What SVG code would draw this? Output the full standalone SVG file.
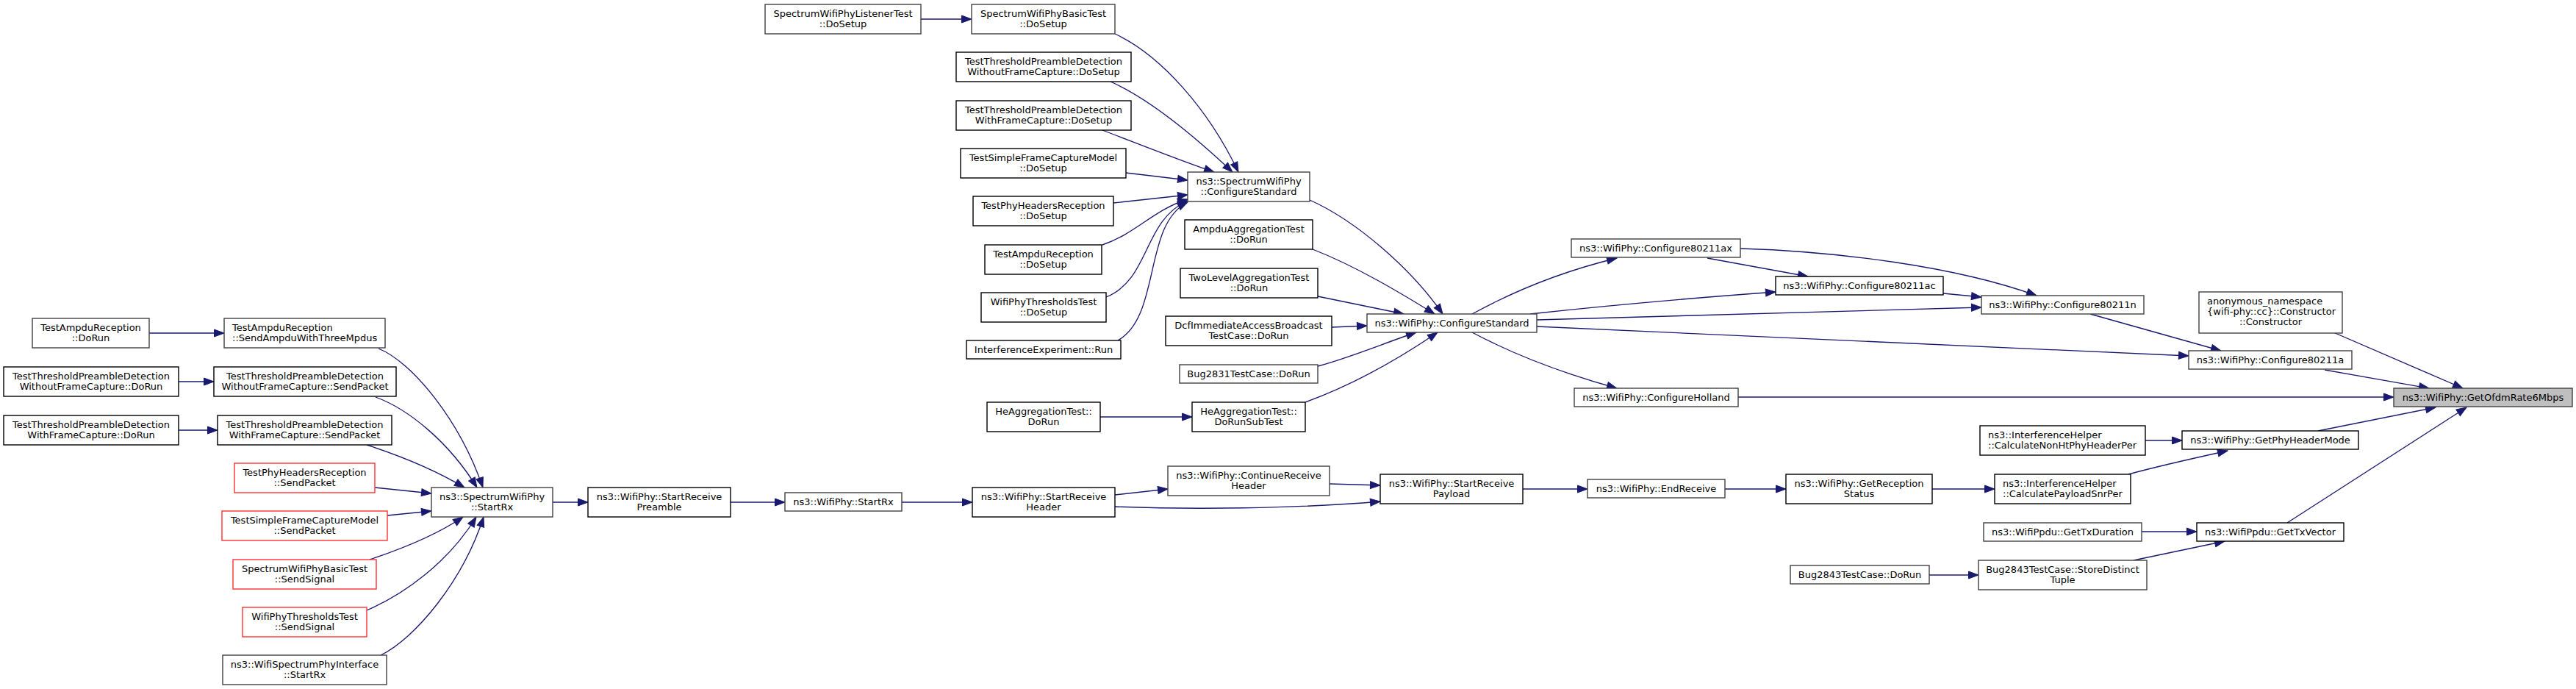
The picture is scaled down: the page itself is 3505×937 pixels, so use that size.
<svg xmlns="http://www.w3.org/2000/svg" width="3505" height="937" viewBox="0 0 3505 937">
<style>
rect{fill:#fff;stroke:#000;stroke-width:1.4}
.g rect{stroke:#404040}
.r rect{stroke:#f33}
.root rect{fill:#bfbfbf;stroke:#404040}
text{font-family:"DejaVu Sans","Liberation Sans",sans-serif;font-size:13px;fill:#000}
.c{text-anchor:middle}
#edges path{fill:none;stroke:#191970;stroke-width:1.33;marker-end:url(#ah)}
</style>
<defs>
<marker id="ah" markerUnits="userSpaceOnUse" markerWidth="14" markerHeight="10" viewBox="0 0 14 10" refX="13.5" refY="5" orient="auto" overflow="visible">
<path d="M0,0 L13.5,5 L0,10 z" fill="#191970" stroke="#191970" stroke-width="1"/>
</marker>
</defs>
<rect x="0" y="0" width="3505" height="937" style="fill:#fff;stroke:none"/>
<g id="edges">
<path d="M203,453 L305,453"/>
<path d="M243,519 L291,519"/>
<path d="M243,585 L296,585"/>
<path d="M515,474 C560,492 625,570 657,663"/>
<path d="M511,540 C555,556 610,600 649,663"/>
<path d="M499,605 C545,620 590,638 632,663"/>
<path d="M510,663 L587,671"/>
<path d="M527,701 L587,695"/>
<path d="M503,761 C545,747 595,727 630,703"/>
<path d="M499,830 C550,808 610,765 648,703"/>
<path d="M518,891 C565,868 630,790 658,703"/>
<path d="M752,683 L800,683"/>
<path d="M994,683 L1068,683"/>
<path d="M1227,683 L1323,683"/>
<path d="M1517,673 L1589,665"/>
<path d="M1517,689 C1620,693 1760,692 1878,682"/>
<path d="M1809,658 L1878,660"/>
<path d="M2072,665 L2160,665"/>
<path d="M2347,665 L2430,665"/>
<path d="M2629,665 L2714,665"/>
<path d="M2919,599 L2969,599"/>
<path d="M2896,645 C2940,633 2990,622 3031,613"/>
<path d="M3154,586 L3314,554"/>
<path d="M2914,723 L2989,723"/>
<path d="M2903,762 C2950,752 2990,744 3027,736"/>
<path d="M2625,782 L2692,782"/>
<path d="M3112,711 L3356,554"/>
<path d="M1253,26 L1322,26"/>
<path d="M1517,46 C1580,75 1645,150 1685,234"/>
<path d="M1511,111 C1565,135 1625,185 1677,234"/>
<path d="M1500,177 C1555,198 1610,220 1652,234"/>
<path d="M1532,235 L1616,245"/>
<path d="M1515,276 L1616,265"/>
<path d="M1500,333 C1545,318 1570,285 1616,271"/>
<path d="M1505,404 C1565,380 1555,300 1616,273"/>
<path d="M1521,463 C1580,430 1555,305 1616,275"/>
<path d="M1782,272 C1845,300 1920,365 1963,427"/>
<path d="M1786,339 C1845,362 1905,398 1952,427"/>
<path d="M1793,403 L1910,427"/>
<path d="M1812,445 L1860,443"/>
<path d="M1793,498 C1835,487 1885,466 1927,452"/>
<path d="M1776,547 C1850,520 1915,480 1956,452"/>
<path d="M1497,567 L1622,567"/>
<path d="M2003,427 C2065,393 2130,368 2200,351"/>
<path d="M2082,427 C2200,414 2320,404 2416,397"/>
<path d="M2091,435 C2300,428 2500,422 2696,418"/>
<path d="M2091,444 C2400,457 2700,470 2978,484"/>
<path d="M2003,452 C2065,485 2135,510 2200,528"/>
<path d="M2323,351 L2460,376"/>
<path d="M2368,338 C2500,342 2660,362 2771,402"/>
<path d="M2644,399 L2696,404"/>
<path d="M2844,427 L3022,477"/>
<path d="M3163,503 L3305,528"/>
<path d="M2365,540 L3257,540"/>
<path d="M3175,452 L3351,528"/>
</g>
<g id="n1" class="g"><rect x="44" y="433" width="159" height="40"/><text class="c" x="123.5" y="449.5">TestAmpduReception</text><text class="c" x="123.5" y="463.5">::DoRun</text></g>
<g id="n2" class="g"><rect x="305" y="433" width="219" height="40"/><text x="316" y="449.5">TestAmpduReception</text><text x="316" y="463.5">::SendAmpduWithThreeMpdus</text></g>
<g id="n3"><rect x="5" y="499" width="238" height="40"/><text class="c" x="124" y="515.5">TestThresholdPreambleDetection</text><text class="c" x="124" y="529.5">WithoutFrameCapture::DoRun</text></g>
<g id="n4"><rect x="291" y="499" width="248" height="40"/><text class="c" x="415" y="515.5">TestThresholdPreambleDetection</text><text class="c" x="415" y="529.5">WithoutFrameCapture::SendPacket</text></g>
<g id="n5"><rect x="5" y="565" width="238" height="40"/><text class="c" x="124" y="581.5">TestThresholdPreambleDetection</text><text class="c" x="124" y="595.5">WithFrameCapture::DoRun</text></g>
<g id="n6"><rect x="296" y="565" width="237" height="40"/><text class="c" x="414.5" y="581.5">TestThresholdPreambleDetection</text><text class="c" x="414.5" y="595.5">WithFrameCapture::SendPacket</text></g>
<g id="n7" class="r"><rect x="319" y="630" width="191" height="40"/><text class="c" x="414.5" y="646.5">TestPhyHeadersReception</text><text class="c" x="414.5" y="660.5">::SendPacket</text></g>
<g id="n8" class="r"><rect x="302" y="695" width="225" height="40"/><text class="c" x="414.5" y="711.5">TestSimpleFrameCaptureModel</text><text class="c" x="414.5" y="725.5">::SendPacket</text></g>
<g id="n9" class="r"><rect x="317" y="761" width="195" height="40"/><text class="c" x="414.5" y="777.5">SpectrumWifiPhyBasicTest</text><text class="c" x="414.5" y="791.5">::SendSignal</text></g>
<g id="n10" class="r"><rect x="330" y="826" width="169" height="40"/><text class="c" x="414.5" y="842.5">WifiPhyThresholdsTest</text><text class="c" x="414.5" y="856.5">::SendSignal</text></g>
<g id="n11" class="g"><rect x="303" y="891" width="223" height="40"/><text class="c" x="414.5" y="907.5">ns3::WifiSpectrumPhyInterface</text><text class="c" x="414.5" y="921.5">::StartRx</text></g>
<g id="n12" class="g"><rect x="587" y="663" width="165" height="40"/><text class="c" x="669.5" y="679.5">ns3::SpectrumWifiPhy</text><text class="c" x="669.5" y="693.5">::StartRx</text></g>
<g id="n13"><rect x="800" y="663" width="194" height="40"/><text class="c" x="897" y="679.5">ns3::WifiPhy::StartReceive</text><text class="c" x="897" y="693.5">Preamble</text></g>
<g id="n14" class="g"><rect x="1068" y="670" width="159" height="25"/><text class="c" x="1147.5" y="686.8">ns3::WifiPhy::StartRx</text></g>
<g id="n15" class="g"><rect x="1041" y="6" width="212" height="40"/><text class="c" x="1147" y="22.5">SpectrumWifiPhyListenerTest</text><text class="c" x="1147" y="36.5">::DoSetup</text></g>
<g id="n16" class="g"><rect x="1322" y="6" width="195" height="40"/><text class="c" x="1419.5" y="22.5">SpectrumWifiPhyBasicTest</text><text class="c" x="1419.5" y="36.5">::DoSetup</text></g>
<g id="n17"><rect x="1301" y="71" width="238" height="40"/><text class="c" x="1420" y="87.5">TestThresholdPreambleDetection</text><text class="c" x="1420" y="101.5">WithoutFrameCapture::DoSetup</text></g>
<g id="n18"><rect x="1301" y="137" width="238" height="40"/><text class="c" x="1420" y="153.5">TestThresholdPreambleDetection</text><text class="c" x="1420" y="167.5">WithFrameCapture::DoSetup</text></g>
<g id="n19"><rect x="1307" y="202" width="225" height="40"/><text class="c" x="1419.5" y="218.5">TestSimpleFrameCaptureModel</text><text class="c" x="1419.5" y="232.5">::DoSetup</text></g>
<g id="n20"><rect x="1324" y="267" width="191" height="40"/><text class="c" x="1419.5" y="283.5">TestPhyHeadersReception</text><text class="c" x="1419.5" y="297.5">::DoSetup</text></g>
<g id="n21"><rect x="1340" y="333" width="159" height="40"/><text class="c" x="1419.5" y="349.5">TestAmpduReception</text><text class="c" x="1419.5" y="363.5">::DoSetup</text></g>
<g id="n22"><rect x="1335" y="398" width="170" height="40"/><text class="c" x="1420" y="414.5">WifiPhyThresholdsTest</text><text class="c" x="1420" y="428.5">::DoSetup</text></g>
<g id="n23"><rect x="1315" y="463" width="210" height="25"/><text class="c" x="1420" y="479.8">InterferenceExperiment::Run</text></g>
<g id="n24"><rect x="1343" y="547" width="154" height="40"/><text class="c" x="1420" y="563.5">HeAggregationTest::</text><text class="c" x="1420" y="577.5">DoRun</text></g>
<g id="n25"><rect x="1323" y="663" width="194" height="40"/><text class="c" x="1420" y="679.5">ns3::WifiPhy::StartReceive</text><text class="c" x="1420" y="693.5">Header</text></g>
<g id="n26" class="g"><rect x="1616" y="234" width="166" height="40"/><text class="c" x="1699" y="250.5">ns3::SpectrumWifiPhy</text><text class="c" x="1699" y="264.5">::ConfigureStandard</text></g>
<g id="n27"><rect x="1612" y="299" width="174" height="40"/><text class="c" x="1699" y="315.5">AmpduAggregationTest</text><text class="c" x="1699" y="329.5">::DoRun</text></g>
<g id="n28"><rect x="1606" y="365" width="187" height="40"/><text class="c" x="1699.5" y="381.5">TwoLevelAggregationTest</text><text class="c" x="1699.5" y="395.5">::DoRun</text></g>
<g id="n29"><rect x="1586" y="430" width="226" height="40"/><text class="c" x="1699" y="446.5">DcfImmediateAccessBroadcast</text><text class="c" x="1699" y="460.5">TestCase::DoRun</text></g>
<g id="n30" class="g"><rect x="1605" y="496" width="188" height="25"/><text class="c" x="1699" y="512.8">Bug2831TestCase::DoRun</text></g>
<g id="n31"><rect x="1622" y="547" width="154" height="40"/><text class="c" x="1699" y="563.5">HeAggregationTest::</text><text class="c" x="1699" y="577.5">DoRunSubTest</text></g>
<g id="n32" class="g"><rect x="1589" y="634" width="220" height="40"/><text class="c" x="1699" y="650.5">ns3::WifiPhy::ContinueReceive</text><text class="c" x="1699" y="664.5">Header</text></g>
<g id="n33" class="g"><rect x="1860" y="427" width="231" height="25"/><text class="c" x="1975.5" y="443.8">ns3::WifiPhy::ConfigureStandard</text></g>
<g id="n34"><rect x="1878" y="645" width="194" height="40"/><text class="c" x="1975" y="661.5">ns3::WifiPhy::StartReceive</text><text class="c" x="1975" y="675.5">Payload</text></g>
<g id="n35" class="g"><rect x="2138" y="325" width="230" height="25"/><text class="c" x="2253" y="341.8">ns3::WifiPhy::Configure80211ax</text></g>
<g id="n36" class="g"><rect x="2142" y="528" width="223" height="25"/><text class="c" x="2253.5" y="544.8">ns3::WifiPhy::ConfigureHolland</text></g>
<g id="n37" class="g"><rect x="2160" y="652" width="187" height="25"/><text class="c" x="2253.5" y="668.8">ns3::WifiPhy::EndReceive</text></g>
<g id="n38"><rect x="2416" y="376" width="228" height="25"/><text class="c" x="2530" y="392.8">ns3::WifiPhy::Configure80211ac</text></g>
<g id="n39"><rect x="2430" y="645" width="199" height="40"/><text class="c" x="2529.5" y="661.5">ns3::WifiPhy::GetReception</text><text class="c" x="2529.5" y="675.5">Status</text></g>
<g id="n40" class="g"><rect x="2436" y="769" width="189" height="25"/><text class="c" x="2530.5" y="785.8">Bug2843TestCase::DoRun</text></g>
<g id="n41" class="g"><rect x="2696" y="402" width="221" height="25"/><text class="c" x="2806.5" y="418.8">ns3::WifiPhy::Configure80211n</text></g>
<g id="n42"><rect x="2694" y="579" width="225" height="40"/><text x="2705" y="595.5">ns3::InterferenceHelper</text><text x="2705" y="609.5">::CalculateNonHtPhyHeaderPer</text></g>
<g id="n43"><rect x="2714" y="645" width="185" height="40"/><text x="2725" y="661.5">ns3::InterferenceHelper</text><text x="2725" y="675.5">::CalculatePayloadSnrPer</text></g>
<g id="n44" class="g"><rect x="2699" y="711" width="215" height="25"/><text class="c" x="2806.5" y="727.8">ns3::WifiPpdu::GetTxDuration</text></g>
<g id="n45" class="g"><rect x="2692" y="762" width="229" height="40"/><text class="c" x="2806.5" y="778.5">Bug2843TestCase::StoreDistinct</text><text class="c" x="2806.5" y="792.5">Tuple</text></g>
<g id="n46" class="g"><rect x="2978" y="477" width="222" height="25"/><text class="c" x="3089" y="493.8">ns3::WifiPhy::Configure80211a</text></g>
<g id="n47" class="g"><rect x="2992" y="397" width="195" height="56"/><text x="3003" y="414">anonymous_namespace</text><text x="3003" y="428">{wifi-phy::cc}::Constructor</text><text class="c" x="3089.5" y="442">::Constructor</text></g>
<g id="n48"><rect x="2969" y="586" width="240" height="25"/><text class="c" x="3089" y="602.8">ns3::WifiPhy::GetPhyHeaderMode</text></g>
<g id="n49"><rect x="2989" y="711" width="200" height="25"/><text class="c" x="3089" y="727.8">ns3::WifiPpdu::GetTxVector</text></g>
<g id="n50" class="root"><rect x="3257" y="528" width="243" height="25"/><text class="c" x="3378.5" y="544.8">ns3::WifiPhy::GetOfdmRate6Mbps</text></g>
</svg>
